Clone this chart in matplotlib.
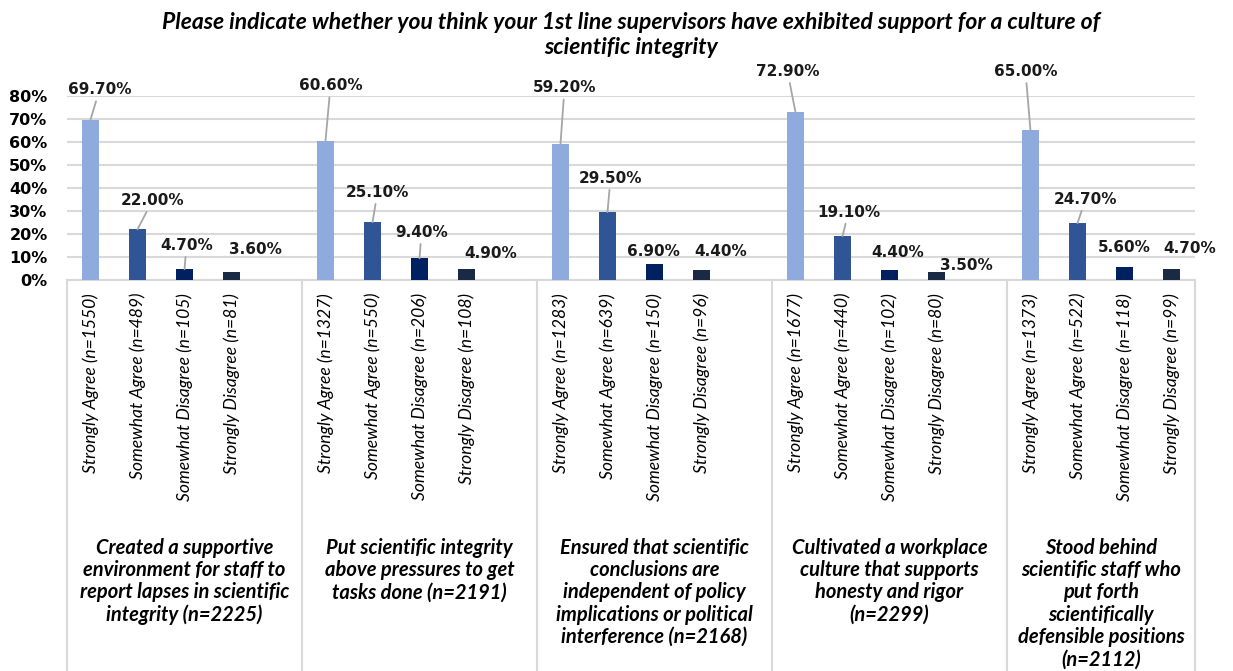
import matplotlib
matplotlib.use("Agg")
import matplotlib.pyplot as plt
import numpy as np

# ================= DATA =================
groups = [
    "Created a supportive\nenvironment for staff to\nreport lapses in scientific\nintegrity (n=2225)",
    "Put scientific integrity\nabove pressures to get\ntasks done (n=2191)",
    "Ensured that scientific\nconclusions are\nindependent of policy\nimplications or political\ninterference (n=2168)",
    "Cultivated a workplace\nculture that supports\nhonesty and rigor\n(n=2299)",
    "Stood behind\nscientific staff who\nput forth\nscientifically\ndefensible positions\n(n=2112)",
]
responses = ["Strongly Agree", "Somewhat Agree", "Somewhat Disagree", "Strongly Disagree"]
pct = [
    [69.7, 22.0, 4.7, 3.6],
    [60.6, 25.1, 9.4, 4.9],
    [59.2, 29.5, 6.9, 4.4],
    [72.9, 19.1, 4.4, 3.5],
    [65.0, 24.7, 5.6, 4.7],
]
counts = [
    [1550, 489, 105, 81],
    [1327, 550, 206, 108],
    [1283, 639, 150, 96],
    [1677, 440, 102, 80],
    [1373, 522, 118, 99],
]
yticks = [0, 10, 20, 30, 40, 50, 60, 70, 80]
title = ("Please indicate whether you think your 1st line supervisors have exhibited support for a culture of\n"
         "scientific integrity")

# ================= STYLE =================
COLORS = ["#8FAADC", "#2F5597", "#002060", "#1B2A44"]
GRID = "#D9D9D9"
LEADER = "#A6A6A6"
# label offsets (pixels) from each bar top, as placed in the original
OFFSETS = [
    [(9, 30), (15, 29), (2, 24), (24, 22)],
    [(5, 55), (5, 30), (2, 26), (24, 15)],
    [(4, 56), (3, 34), (-1, 13), (19, 18)],
    [(-8, 41), (6, 24), (8, 17), (30, 6)],
    [(-5, 59), (8, 24), (0, 20), (18, 21)],
]

W, H = 1233, 671
fig = plt.figure(figsize=(W / 100, H / 100), dpi=100)
x0, x1, ybot, ytop = 67, 1195, 280, 96
ax = fig.add_axes([x0 / W, (H - ybot) / H, (x1 - x0) / W, (ybot - ytop) / H])

n_slots = len(groups) * 5 - 1
ax.set_xlim(0, n_slots)
ax.set_ylim(0, 80)

for g in range(len(groups)):
    for j in range(len(responses)):
        xc = g * 5 + j + 0.5
        v = pct[g][j]
        ax.bar(xc, v, width=0.38, color=COLORS[j], zorder=3)
        dx, dy = OFFSETS[g][j]
        arrow = dict(arrowstyle="-", color=LEADER, lw=1.3, shrinkA=1, shrinkB=0) if dy >= 24 else None
        ax.annotate(f"{v:.2f}%", xy=(xc, v), xytext=(dx, dy), textcoords="offset pixels",
                    ha="center", va="center", fontsize=11, fontweight="bold",
                    family="DejaVu Sans", color="#1a1a1a", arrowprops=arrow,
                    annotation_clip=False, zorder=5)
        # rotated response label
        ax.text(xc, -0.07, f"{responses[j]} (n={counts[g][j]})", transform=ax.get_xaxis_transform(),
                rotation=90, ha="center", va="top", fontsize=12.6, style="italic",
                family="Lato", color="#000000")
    # group label
    ax.text(g * 5 + 2.5 if g < len(groups) - 1 else g * 5 + 2, -1.40, groups[g],
            transform=ax.get_xaxis_transform(), ha="center", va="top", fontsize=14.5,
            fontweight="bold", style="italic", family="Lato", linespacing=1.15, color="#000000")

# separators of the category axis
ybottom_axes = (ybot - H) / (ybot - ytop)
for s in list(range(0, n_slots, 5)) + [n_slots]:
    ax.plot([s, s], [0, ybottom_axes], transform=ax.get_xaxis_transform(),
            color=GRID, lw=1.5, clip_on=False, zorder=1)

ax.set_yticks(yticks)
ax.set_yticklabels([f"{t}%" for t in yticks], fontsize=11.5, fontweight="bold", family="DejaVu Sans")
ax.tick_params(axis="y", length=0, pad=14)
ax.set_xticks([])
ax.yaxis.grid(True, color=GRID, lw=1.5, zorder=0)
ax.set_axisbelow(True)
for sp in ["top", "right", "left"]:
    ax.spines[sp].set_visible(False)
ax.spines["bottom"].set_color(GRID)
ax.spines["bottom"].set_linewidth(1.5)

fig.text(631 / W, 1 - 35 / H, title, ha="center", va="center", fontsize=16.5,
         fontweight="bold", style="italic", family="Lato", linespacing=1.22)

fig.savefig("out.png", dpi=100)
